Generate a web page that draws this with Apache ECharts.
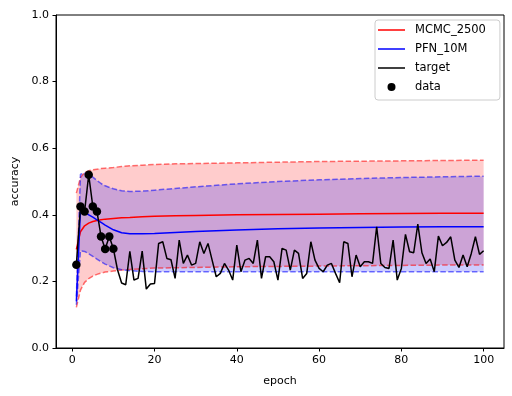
<!DOCTYPE html>
<html><head><meta charset="utf-8">
<script src="https://cdn.jsdelivr.net/npm/echarts@6/dist/echarts.min.js"></script>
<style>html,body{margin:0;padding:0;background:#fff}#c{width:512px;height:396px}</style>
</head><body><div id="c"></div>
<script>
// ---- data ----
const epochs = [1,2,3,4,5,6,7,8,9,10,11,12,13,14,15,16,17,18,19,20,21,22,23,24,25,26,27,28,29,30,31,32,33,34,35,36,37,38,39,40,41,42,43,44,45,46,47,48,49,50,51,52,53,54,55,56,57,58,59,60,61,62,63,64,65,66,67,68,69,70,71,72,73,74,75,76,77,78,79,80,81,82,83,84,85,86,87,88,89,90,91,92,93,94,95,96,97,98,99,100];
const targetValues = [0.250,0.425,0.410,0.520,0.425,0.410,0.335,0.297,0.335,0.298,
  0.235,0.195,0.190,0.290,0.204,0.209,0.291,0.177,0.192,0.194,
  0.314,0.319,0.269,0.265,0.209,0.324,0.254,0.279,0.249,0.254,
  0.319,0.284,0.314,0.264,0.214,0.224,0.254,0.234,0.204,0.309,
  0.229,0.264,0.269,0.254,0.324,0.209,0.274,0.274,0.259,0.204,
  0.299,0.294,0.234,0.294,0.284,0.209,0.224,0.319,0.264,0.239,
  0.229,0.249,0.254,0.224,0.196,0.319,0.314,0.214,0.279,0.244,
  0.259,0.259,0.254,0.364,0.254,0.242,0.239,0.324,0.204,0.239,
  0.341,0.289,0.286,0.372,0.286,0.254,0.267,0.229,0.336,0.307,
  0.317,0.334,0.264,0.242,0.279,0.244,0.284,0.334,0.281,0.292];
const dataEpochs = [1,2,3,4,5,6,7,8,9,10];
const dataValues = [0.250,0.425,0.410,0.520,0.425,0.410,0.335,0.297,0.335,0.298];

const bandEpochs = [1,2,3,4,5,6,7,8,10,12,14,17,20,25,30,40,50,60,70,80,90,100];
const mcmcMean = [0.296,0.349,0.367,0.375,0.380,0.383,0.385,0.387,0.389,0.391,0.392,0.394,0.396,0.397,0.398,0.400,0.401,0.402,0.403,0.404,0.405,0.405];
const mcmcHi   = [0.465,0.512,0.527,0.532,0.535,0.537,0.539,0.540,0.542,0.545,0.547,0.549,0.551,0.553,0.554,0.556,0.558,0.560,0.561,0.562,0.563,0.564];
const mcmcLo   = [0.122,0.174,0.197,0.208,0.216,0.221,0.225,0.228,0.231,0.234,0.236,0.238,0.240,0.241,0.242,0.244,0.245,0.246,0.247,0.248,0.249,0.249];
const pfnMean  = [0.140,0.415,0.407,0.400,0.393,0.385,0.377,0.369,0.355,0.346,0.343,0.343,0.344,0.347,0.350,0.354,0.358,0.360,0.362,0.363,0.364,0.364];
const pfnHi    = [0.155,0.522,0.525,0.522,0.513,0.503,0.494,0.487,0.478,0.472,0.470,0.471,0.474,0.479,0.484,0.493,0.500,0.505,0.509,0.512,0.514,0.516];
const pfnLo    = [0.130,0.292,0.290,0.283,0.275,0.267,0.259,0.252,0.241,0.235,0.232,0.230,0.229,0.229,0.229,0.229,0.229,0.229,0.229,0.229,0.229,0.229];

const xTickValues = [0,20,40,60,80,100];
const seriesNames = ['MCMC_2500','PFN_10M','target','data'];

// ---- chart ----
const FONT = 'DejaVu Sans';
const pairs = (xs, ys) => xs.map((x, i) => [x, ys[i]]);
const LINE_ICON = 'path://M0,0 M27,8 M0,3.25 L27,3.25 L27,4.75 L0,4.75 Z';

function bandFill(lo, hi, fill) {
  return {
    type:'custom', silent:true, z:1,
    data:[[bandEpochs[0], lo[0]]], encode:{x:0, y:1},
    renderItem: (params, api) => {
      const top = bandEpochs.map((e, i) => api.coord([e, hi[i]]));
      const bot = bandEpochs.map((e, i) => api.coord([e, lo[i]])).reverse();
      return {type:'polygon', shape:{points: top.concat(bot)}, style:{fill: fill}};
    }
  };
}
function dashedLine(vals, color) {
  return {type:'line', data: pairs(bandEpochs, vals), symbol:'none', showSymbol:false, silent:true,
    lineStyle:{color: color, width:1.5, type:[5.5, 2.4]}, itemStyle:{color: color}, z:2};
}

const chart = echarts.init(document.getElementById('c'), null, {renderer:'canvas'});
chart.setOption({
  animation:false,
  backgroundColor:'#fff',
  grid:{left:56, right:8, top:15, bottom:48, show:true, borderColor:'#000', borderWidth:1,
        backgroundColor:'transparent', outerBoundsMode:'none', containLabel:false},
  legend:{
    data: [
      {name:seriesNames[0], icon: LINE_ICON},
      {name:seriesNames[1], icon: LINE_ICON},
      {name:seriesNames[2], icon: LINE_ICON},
      {name:seriesNames[3], icon:'circle'}
    ],
    orient:'vertical', left:375, top:20,
    padding:[4,14,7,3], itemWidth:27, itemHeight:8, itemGap:7,
    backgroundColor:'rgba(255,255,255,0.8)', borderColor:'#cccccc', borderWidth:1, borderRadius:3,
    textStyle:{fontFamily:FONT, fontSize:11.5, color:'#000', lineHeight:12, padding:[0,0,0,5]}
  },
  xAxis:{
    type:'value', min:-3.95, max:104.95,
    name:'epoch', nameLocation:'middle', nameGap:28,
    nameTextStyle:{fontFamily:FONT, fontSize:11, color:'#000'},
    axisLine:{show:true, onZero:false, lineStyle:{color:'#000', width:1}},
    axisTick:{show:true, length:3.5, customValues:xTickValues, lineStyle:{color:'#000', width:1}},
    axisLabel:{customValues:xTickValues, margin:7, fontFamily:FONT, fontSize:11, color:'#000'},
    splitLine:{show:false}
  },
  yAxis:{
    type:'value', min:0, max:1, interval:0.2,
    name:'accuracy', nameLocation:'middle', nameGap:35,
    nameTextStyle:{fontFamily:FONT, fontSize:11, color:'#000'},
    axisLine:{show:true, onZero:false, lineStyle:{color:'#000', width:1}},
    axisTick:{show:true, length:3.5, lineStyle:{color:'#000', width:1}},
    axisLabel:{margin:7, fontFamily:FONT, fontSize:11, color:'#000', formatter: v => v.toFixed(1)},
    splitLine:{show:false}
  },
  series:[
    bandFill(mcmcLo, mcmcHi, 'rgba(255,0,0,0.2)'),
    bandFill(pfnLo, pfnHi, 'rgba(0,0,255,0.2)'),
    dashedLine(mcmcLo, 'rgba(255,0,0,0.55)'),
    dashedLine(mcmcHi, 'rgba(255,0,0,0.55)'),
    dashedLine(pfnLo, 'rgba(0,0,255,0.55)'),
    dashedLine(pfnHi, 'rgba(0,0,255,0.55)'),
    {type:'line', name:seriesNames[0], data: pairs(bandEpochs, mcmcMean), symbol:'none', showSymbol:false,
     lineStyle:{color:'#ff0000', width:1.5}, itemStyle:{color:'#ff0000'}, z:3},
    {type:'line', name:seriesNames[1], data: pairs(bandEpochs, pfnMean), symbol:'none', showSymbol:false,
     lineStyle:{color:'#0000ff', width:1.5}, itemStyle:{color:'#0000ff'}, z:3},
    {type:'line', name:seriesNames[2], data: pairs(epochs, targetValues), symbol:'none', showSymbol:false,
     lineStyle:{color:'#000', width:1.5}, itemStyle:{color:'#000'}, z:4},
    {type:'scatter', name:seriesNames[3], data: pairs(dataEpochs, dataValues), symbol:'circle', symbolSize:8.5,
     itemStyle:{color:'#000', opacity:1}, z:5}
  ]
});
</script></body></html>
